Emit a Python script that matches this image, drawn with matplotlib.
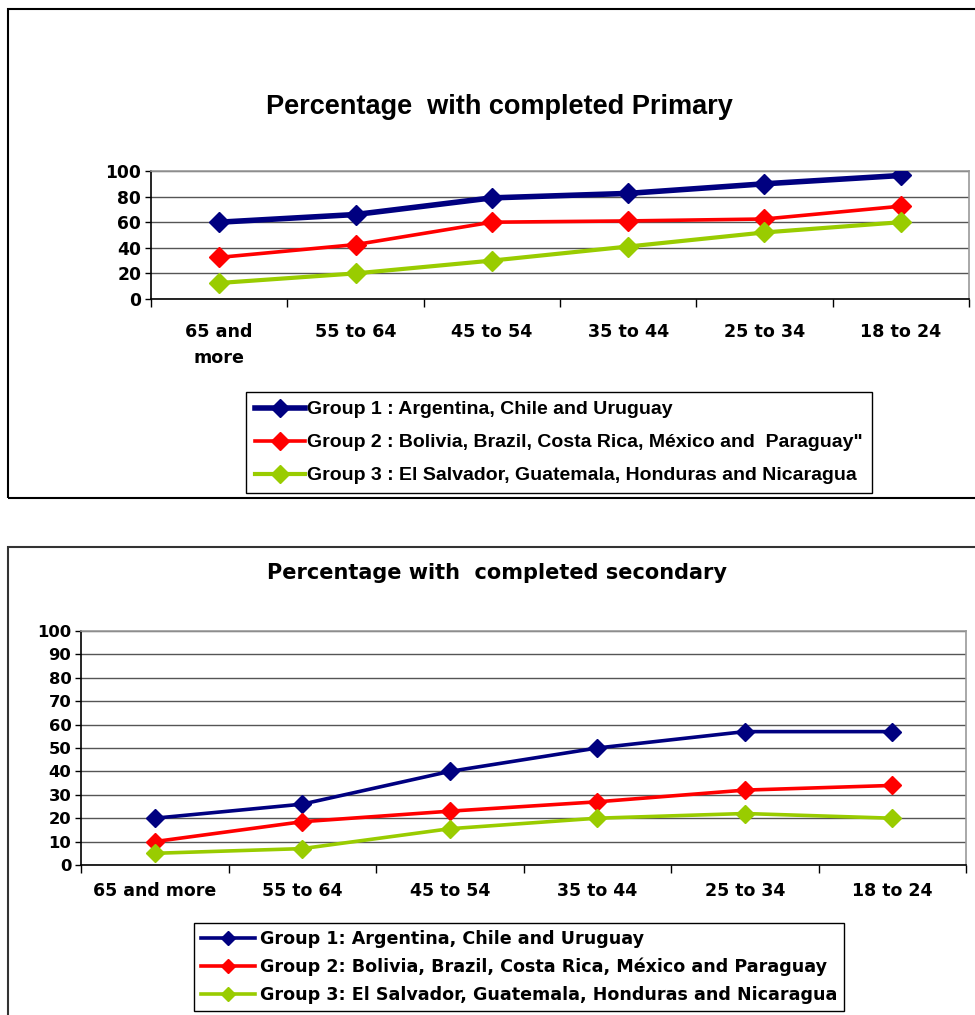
import matplotlib
matplotlib.use("Agg")
import matplotlib.pyplot as plt
from matplotlib.patches import Rectangle
from matplotlib.lines import Line2D
import numpy as np

# ---------------- data ----------------
cats_primary = ["65 and\nmore", "55 to 64", "45 to 54", "35 to 44", "25 to 34", "18 to 24"]
cats_secondary = ["65 and more", "55 to 64", "45 to 54", "35 to 44", "25 to 34", "18 to 24"]

primary_g1 = [60, 66, 79, 82.5, 90, 96.5]
primary_g2 = [32.5, 42.5, 60, 61, 62.5, 72.5]
primary_g3 = [12.5, 20, 30, 41, 52, 60]

secondary_g1 = [20, 26, 40, 50, 57, 57]
secondary_g2 = [10, 18.5, 23, 27, 32, 34]
secondary_g3 = [5, 7, 15.5, 20, 22, 20]

labels_primary = ["Group 1 : Argentina, Chile and Uruguay",
                  "Group 2 : Bolivia, Brazil, Costa Rica, México and  Paraguay\"",
                  "Group 3 : El Salvador, Guatemala, Honduras and Nicaragua"]
labels_secondary = ["Group 1: Argentina, Chile and Uruguay",
                    "Group 2: Bolivia, Brazil, Costa Rica, México and Paraguay",
                    "Group 3: El Salvador, Guatemala, Honduras and Nicaragua"]

colors = ["#000080", "#FF0000", "#99CC00"]

W, H = 975, 1015
fig = plt.figure(figsize=(W / 100, H / 100), dpi=100)
fig.patch.set_facecolor("white")

def fx(px):
    return px / W

def fy(py):
    return 1 - py / H

# panel borders
fig.patches.append(Rectangle((fx(8), fy(498)), 2.0, (498 - 9) / H, transform=fig.transFigure,
                             fill=False, edgecolor="black", lw=1.5, clip_on=False))
fig.patches.append(Rectangle((fx(8), -0.2), 2.0, fy(547) + 0.2, transform=fig.transFigure,
                             fill=False, edgecolor="#333333", lw=1.5, clip_on=False))

def setup_axes(ax, cats, ymax, ystep, ylabfont, ylabsize, xlabfont, xlabsize, xpad):
    n = len(cats)
    ax.set_xlim(-0.5, n - 0.5)
    ax.set_ylim(0, ymax)
    ax.set_yticks(np.arange(0, ymax + 1, ystep))
    ax.set_xticks(np.arange(n))
    ax.set_xticklabels(cats, fontfamily=xlabfont, fontweight="bold", fontsize=xlabsize,
                       linespacing=1.6)
    ax.set_xticks(np.arange(-0.5, n, 1.0), minor=True)
    ax.tick_params(axis="x", which="major", length=0, pad=xpad)
    ax.tick_params(axis="x", which="minor", length=6, width=1, direction="out", color="black")
    ax.tick_params(axis="y", which="major", length=4, width=1, direction="out", pad=3)
    for lab in ax.get_yticklabels():
        lab.set_fontfamily(ylabfont)
        lab.set_fontweight("bold")
        lab.set_fontsize(ylabsize)
    ax.grid(axis="y", color="#555555", lw=1)
    ax.set_axisbelow(True)
    ax.spines["left"].set_color("black")
    ax.spines["bottom"].set_color("black")
    ax.spines["top"].set_color("#999999")
    ax.spines["right"].set_color("#999999")
    for s in ax.spines.values():
        s.set_linewidth(1.2)

# ---------------- top chart ----------------
ax1 = fig.add_axes([fx(151), fy(299), fx(969) - fx(151), fy(171) - fy(299)])
x = np.arange(len(cats_primary))
lws1 = [4.0, 2.6, 3.0]
for vals, c, lw, lab in zip([primary_g1, primary_g2, primary_g3], colors, lws1, labels_primary):
    ax1.plot(x, vals, color=c, lw=lw, marker="D", markersize=10, markeredgecolor=c,
             markerfacecolor=c, label=lab, solid_joinstyle="round", zorder=3)
setup_axes(ax1, cats_primary, 100, 20, "DejaVu Sans", 12.3, "DejaVu Sans", 12.6, 17)
fig.text(fx(499), fy(107), "Percentage  with completed Primary", ha="center", va="center",
         fontfamily="Liberation Sans", fontweight="bold", fontsize=19.5)
handles1 = [Line2D([], [], color=c, lw=lw, marker="D", markersize=9, markerfacecolor=c,
                   markeredgecolor=c) for c, lw in zip(colors, lws1)]
leg1 = fig.legend(handles1, labels_primary, loc="upper left",
                  bbox_to_anchor=(fx(246), fy(392)), bbox_transform=fig.transFigure,
                  prop={"family": "Liberation Sans", "weight": "bold", "size": 14},
                  frameon=True, fancybox=False, edgecolor="black", framealpha=1,
                  borderpad=0.45, labelspacing=0.79, handlelength=2.6, handletextpad=0.1,
                  borderaxespad=0)
leg1.get_frame().set_linewidth(1.0)

# ---------------- bottom chart ----------------
ax2 = fig.add_axes([fx(81), fy(865), fx(966) - fx(81), fy(631) - fy(865)])
x2 = np.arange(len(cats_secondary))
lws2 = [2.6, 2.6, 2.6]
for vals, c, lw, lab in zip([secondary_g1, secondary_g2, secondary_g3], colors, lws2, labels_secondary):
    ax2.plot(x2, vals, color=c, lw=lw, marker="D", markersize=9.5, markeredgecolor=c,
             markerfacecolor=c, label=lab, zorder=3)
setup_axes(ax2, cats_secondary, 100, 10, "DejaVu Sans", 11.8, "DejaVu Sans", 12.5, 12)
fig.text(fx(497), fy(573), "Percentage with  completed secondary", ha="center", va="center",
         fontfamily="DejaVu Sans", fontweight="bold", fontsize=15)
handles2 = [Line2D([], [], color=c, lw=2.6, marker="D", markersize=7, markerfacecolor=c,
                   markeredgecolor=c) for c in colors]
leg2 = fig.legend(handles2, labels_secondary, loc="upper left",
                  bbox_to_anchor=(fx(194), fy(923)), bbox_transform=fig.transFigure,
                  prop={"family": "DejaVu Sans", "weight": "bold", "size": 12.6},
                  frameon=True, fancybox=False, edgecolor="black", framealpha=1,
                  borderpad=0.4, labelspacing=0.55, handlelength=3.1, handletextpad=0.25,
                  borderaxespad=0)
leg2.get_frame().set_linewidth(1.0)

fig.savefig("out.png", dpi=100, facecolor="white")
